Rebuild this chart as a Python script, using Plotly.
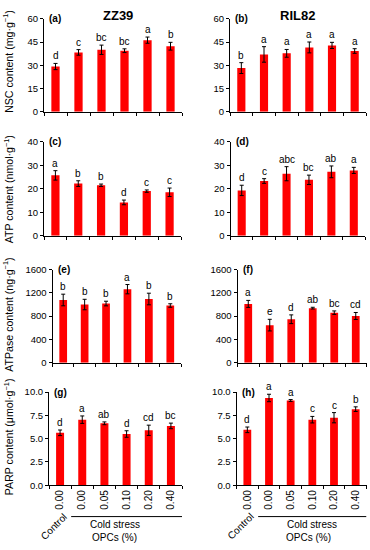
import plotly.graph_objects as go

# ---------------- data ----------------
categories = ["ctrl_0.00", "cs_0.00", "cs_0.05", "cs_0.10", "cs_0.20", "cs_0.40"]
tick_labels = ["0.00", "0.00", "0.05", "0.10", "0.20", "0.40"]
cultivars = ["ZZ39", "RIL82"]

nsc_zz39 = [29.2, 38.3, 40.0, 39.4, 46.2, 42.3]
nsc_zz39_err = [2.0, 1.8, 3.0, 1.2, 2.0, 2.5]
nsc_zz39_sig = ["d", "c", "bc", "bc", "a", "b"]

nsc_ril82 = [28.2, 37.0, 37.7, 41.5, 42.8, 39.2]
nsc_ril82_err = [3.5, 5.0, 2.5, 3.5, 2.0, 1.5]
nsc_ril82_sig = ["b", "a", "a", "a", "a", "a"]

atp_zz39 = [25.7, 22.2, 21.5, 14.2, 19.0, 18.5]
atp_zz39_err = [2.0, 1.2, 0.5, 1.0, 0.5, 1.8]
atp_zz39_sig = ["a", "b", "b", "d", "c", "c"]

atp_ril82 = [19.3, 23.3, 26.4, 23.8, 27.2, 27.8]
atp_ril82_err = [2.2, 1.0, 3.0, 2.0, 2.5, 1.3]
atp_ril82_sig = ["d", "c", "abc", "bc", "ab", "a"]

atpase_zz39 = [1078, 1000, 1017, 1264, 1095, 983]
atpase_zz39_err = [100, 90, 40, 80, 100, 30]
atpase_zz39_sig = ["b", "b", "b", "a", "b", "b"]

atpase_ril82 = [1011, 646, 747, 938, 860, 803]
atpase_ril82_err = [60, 100, 75, 15, 30, 60]
atpase_ril82_sig = ["a", "e", "d", "ab", "bc", "cd"]

parp_zz39 = [5.63, 7.04, 6.65, 5.50, 5.90, 6.37]
parp_zz39_err = [0.30, 0.40, 0.15, 0.35, 0.55, 0.30]
parp_zz39_sig = ["d", "a", "ab", "d", "cd", "bc"]

parp_ril82 = [5.95, 9.37, 9.10, 7.04, 7.25, 8.17]
parp_ril82_err = [0.30, 0.40, 0.10, 0.35, 0.55, 0.25]
parp_ril82_sig = ["d", "a", "a", "c", "c", "b"]

y_titles = ["NSC content (mg·g<sup>−1</sup>)", "ATP content (nmol·g<sup>−1</sup>)",
            "ATPase content (ng·g<sup>−1</sup>)", "PARP content (μmol·g<sup>−1</sup>)"]
panel_labels = ["(a)", "(b)", "(c)", "(d)", "(e)", "(f)", "(g)", "(h)"]
y_ranges = [(0, 60, 15), (0, 40, 10), (0, 1600, 400), (0, 10, 2.5)]

panels = [
    (nsc_zz39, nsc_zz39_err, nsc_zz39_sig), (nsc_ril82, nsc_ril82_err, nsc_ril82_sig),
    (atp_zz39, atp_zz39_err, atp_zz39_sig), (atp_ril82, atp_ril82_err, atp_ril82_sig),
    (atpase_zz39, atpase_zz39_err, atpase_zz39_sig), (atpase_ril82, atpase_ril82_err, atpase_ril82_sig),
    (parp_zz39, parp_zz39_err, parp_zz39_sig), (parp_ril82, parp_ril82_err, parp_ril82_sig),
]

# ---------------- layout geometry (pixels) ----------------
W, H = 370, 550
x_px = [(44, 182), (230, 366), (44, 181), (230.5, 365), (52.5, 181), (237.5, 366.5), (49, 182), (236.5, 366.5)]
y_px = [(13, 108), (138.5, 234.5), (269, 364), (394, 489)]
title_centers = [57, 187, 315, 440]

FONT = "Liberation Sans, Arial, sans-serif"
RED = "#FF0000"

fig = go.Figure()
annotations = []
shapes = []

for i, (vals, errs, sig) in enumerate(panels):
    n = i + 1
    row, col = i // 2, i % 2
    xs = "" if n == 1 else str(n)
    x0, x1 = x_px[i]
    ytop, ybot = y_px[row]
    xdom = [x0 / W, x1 / W]
    ydom = [1 - ybot / H, 1 - ytop / H]
    ymin, ymax, dt = y_ranges[row]
    bottom = row == 3

    fig.add_trace(go.Bar(
        x=categories, y=vals, xaxis="x" + xs, yaxis="y" + xs,
        marker=dict(color=RED, line=dict(width=0)), width=0.36,
        error_y=dict(type="data", array=errs, color="black", thickness=1, width=2),
        showlegend=False, hoverinfo="skip",
    ))

    fig.layout["xaxis" + xs] = dict(
        domain=xdom, anchor="y" + xs, type="category",
        categoryorder="array", categoryarray=categories, range=[-0.5, 5.5],
        showline=True, linecolor="black", linewidth=1,
        ticks="outside", tickson="boundaries", ticklen=3, tickcolor="black",
        showgrid=False, zeroline=False,
        showticklabels=bottom, tickvals=categories, ticktext=tick_labels,
        tickangle=-90, tickfont=dict(family=FONT, size=10, color="black"),
    )
    fig.layout["yaxis" + xs] = dict(
        domain=ydom, anchor="x" + xs, range=[ymin, ymax], dtick=dt, tick0=0,
        tickformat=".1f" if row == 3 else "d",
        showline=True, linecolor="black", linewidth=1,
        ticks="outside", ticklen=3, tickcolor="black",
        showgrid=False, zeroline=False,
        tickfont=dict(family=FONT, size=9.5, color="black"),
    )

    # significance letters
    for c, v, e, s in zip(categories, vals, errs, sig):
        annotations.append(dict(
            x=c, y=v + e, xref="x" + xs, yref="y" + xs, text=s, showarrow=False,
            yanchor="bottom", yshift=0, font=dict(family=FONT, size=10, color="black"),
        ))
    # panel label
    annotations.append(dict(
        x=(x0 + 3) / W, y=1 - ytop / H, xref="paper", yref="paper",
        text="<b>" + panel_labels[i] + "</b>", showarrow=False,
        xanchor="left", yanchor="middle", font=dict(family=FONT, size=10, color="black"),
    ))
    # y-axis titles (left column only)
    if col == 0:
        annotations.append(dict(
            x=8 / W, y=1 - title_centers[row] / H, xref="paper", yref="paper",
            text=y_titles[row], showarrow=False, textangle=-90,
            xanchor="center", yanchor="middle", font=dict(family=FONT, size=10.6, color="black"),
        ))
    if bottom:
        # Control label
        cx = 54 if col == 0 else 240.5
        annotations.append(dict(
            x=cx / W, y=1 - 531.5 / H, xref="paper", yref="paper", text="Control",
            showarrow=False, textangle=-45, xanchor="center", yanchor="middle",
            font=dict(family=FONT, size=10, color="black"),
        ))
        # cold stress bracket line
        shapes.append(dict(
            type="line", xref="x" + xs, yref="paper", x0=0.5, x1=5.5,
            y0=1 - 521 / H, y1=1 - 521 / H, line=dict(color="black", width=1),
        ))
        csx = 115 if col == 0 else 312
        annotations.append(dict(
            x=csx / W, y=1 - 529 / H, xref="paper", yref="paper", text="Cold stress",
            showarrow=False, xanchor="center", yanchor="middle",
            font=dict(family=FONT, size=10, color="black"),
        ))
        ox = 114 if col == 0 else 308
        annotations.append(dict(
            x=ox / W, y=1 - 542.5 / H, xref="paper", yref="paper", text="OPCs (%)",
            showarrow=False, xanchor="center", yanchor="middle",
            font=dict(family=FONT, size=10, color="black"),
        ))

# cultivar titles
for name, tx in zip(cultivars, [118, 297.5]):
    annotations.append(dict(
        x=tx / W, y=1 - 10 / H, xref="paper", yref="paper", text="<b>" + name + "</b>",
        showarrow=False, xanchor="center", yanchor="middle",
        font=dict(family=FONT, size=13, color="black"),
    ))

fig.update_layout(
    width=W, height=H, margin=dict(l=0, r=0, t=0, b=0),
    paper_bgcolor="white", plot_bgcolor="white",
    annotations=annotations, shapes=shapes, bargap=0.64,
    font=dict(family=FONT, color="black"),
)

fig.write_html(
    "out.html",
    config={"displayModeBar": False},
    post_script="document.body.style.margin='0';document.body.style.padding='0';document.body.style.overflow='hidden';",
)
